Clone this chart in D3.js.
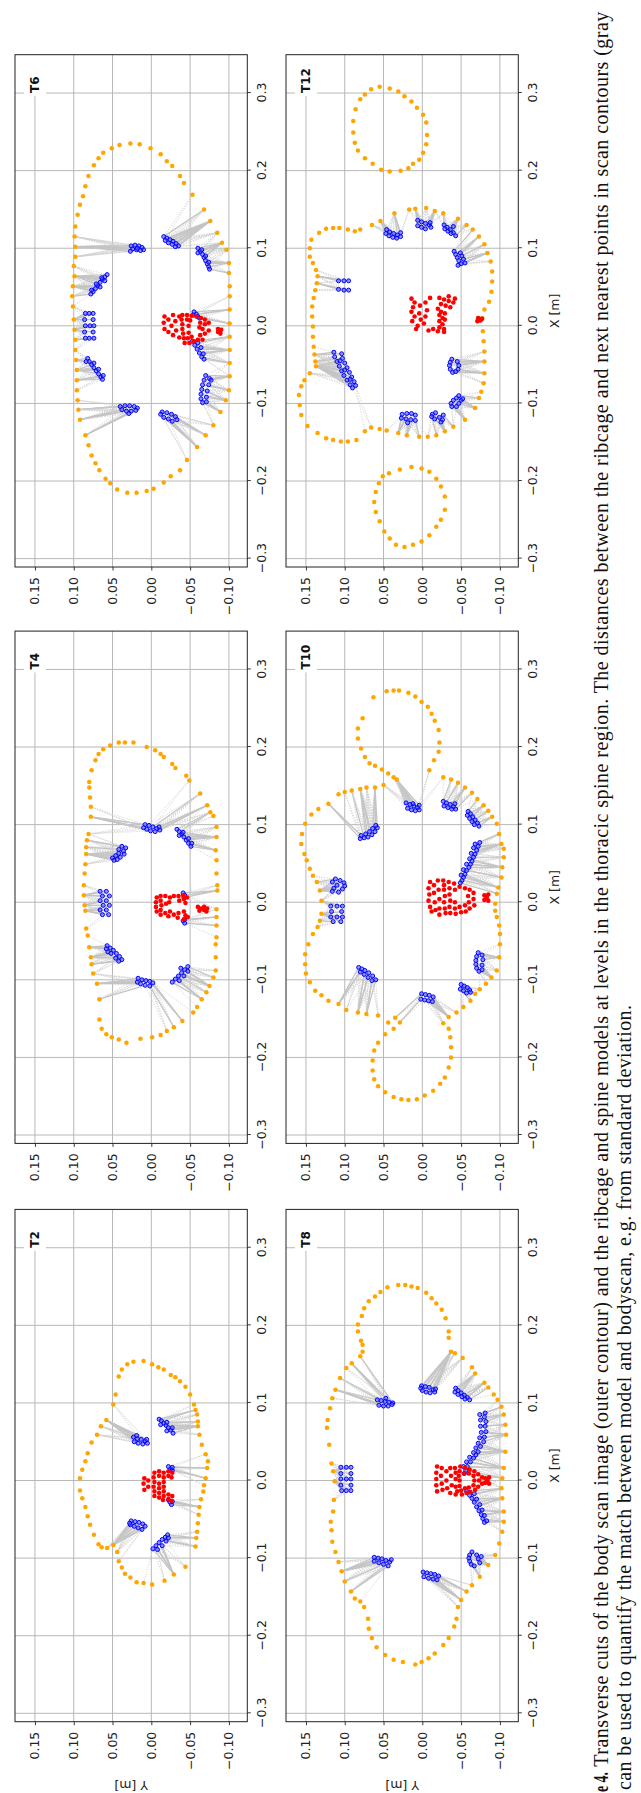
<!DOCTYPE html>
<html><head><meta charset="utf-8">
<script src="https://cdn.jsdelivr.net/npm/d3@7"></script>
<style>html,body{margin:0;padding:0;background:#fff;}svg{display:block;}</style>
</head><body>
<svg id="c" width="641" height="1793"></svg>
<script>
// ---------- tick labels / names ----------
const xTicks = [-0.3,-0.2,-0.1,0,0.1,0.2,0.3];
const yTicks = [-0.10,-0.05,0,0.05,0.10,0.15];
const panelNames = ["T2","T4","T6","T8","T10","T12"];
const captionBold = "e 4.";
const captionLine1 = "Transverse cuts of the body scan image (outer contour) and the ribcage and spine models at levels in the thoracic spine region. The distances between the ribcage and next nearest points in scan contours (gray";
const captionLine2 = "can be used to quantify the match between model and bodyscan, e.g. from standard deviation.";

// ---------- T2 ----------
const contourT2 = [[0.153,0.023],[0.154,0.010],[0.150,-0.001],[0.146,-0.009],[0.143,-0.016],[0.136,-0.025],[0.133,-0.031],[0.128,-0.037],[0.121,-0.044],[0.111,-0.050],[0.098,-0.055],[0.091,-0.057],[0.085,-0.059],[0.076,-0.060],[0.070,-0.060],[0.059,-0.062],[0.046,-0.065],[0.034,-0.070],[0.025,-0.073],[0.016,-0.072],[0.003,-0.070],[-0.006,-0.068],[-0.014,-0.067],[-0.024,-0.064],[-0.034,-0.062],[-0.044,-0.061],[-0.055,-0.060],[-0.066,-0.059],[-0.074,-0.058],[-0.085,-0.057],[-0.111,-0.044],[-0.121,-0.029],[-0.129,-0.017],[-0.134,-0.001],[-0.132,0.010],[-0.131,0.019],[-0.125,0.027],[-0.120,0.034],[-0.112,0.038],[-0.104,0.042],[-0.092,0.044],[-0.083,0.049],[-0.087,0.057],[-0.086,0.064],[-0.082,0.068],[-0.070,0.074],[-0.057,0.079],[-0.046,0.082],[-0.034,0.085],[-0.023,0.089],[-0.013,0.092],[0.003,0.092],[0.014,0.089],[0.025,0.085],[0.035,0.082],[0.049,0.077],[0.059,0.070],[0.070,0.065],[0.078,0.058],[0.098,0.049],[0.111,0.046],[0.134,0.042],[0.143,0.038],[0.150,0.031]];
const ribsT2 = [
 [[0.056,0.023],[0.054,0.018],[0.053,0.013],[0.051,0.008],[0.048,0.005],[0.050,0.022],[0.048,0.017],[0.047,0.011],[0.053,0.006],[0.058,0.019]],
 [[0.079,-0.010],[0.077,-0.013],[0.074,-0.016],[0.071,-0.019],[0.068,-0.022],[0.065,-0.025],[0.061,-0.028],[0.075,-0.020],[0.068,-0.027],[0.072,-0.012],[0.064,-0.020]],
 [[0.018,-0.022],[0.015,-0.025],[0.013,-0.027],[0.017,-0.027]],
 [[-0.025,-0.022],[-0.028,-0.024],[-0.031,-0.026],[-0.027,-0.027]],
 [[-0.052,0.026],[-0.053,0.021],[-0.054,0.016],[-0.056,0.011],[-0.059,0.008],[-0.057,0.027],[-0.059,0.022],[-0.061,0.017],[-0.063,0.012],[-0.055,0.028]],
 [[-0.070,-0.021],[-0.073,-0.018],[-0.076,-0.014],[-0.080,-0.010],[-0.084,-0.006],[-0.088,-0.002],[-0.078,-0.019],[-0.084,-0.014],[-0.089,-0.008],[-0.074,-0.022]]
];
const spineT2 = [[0.003,0.009],[-0.004,0.010],[-0.012,0.009],[0.000,0.004],[-0.008,0.004],[0.010,-0.004],[0.004,-0.003],[-0.002,-0.004],[-0.008,-0.003],[-0.014,-0.004],[-0.020,-0.004],[0.012,-0.010],[0.006,-0.010],[-0.016,-0.010],[-0.022,-0.010],[0.010,-0.016],[0.004,-0.016],[-0.002,-0.016],[-0.008,-0.016],[-0.014,-0.016],[-0.020,-0.016],[-0.025,-0.015],[0.012,-0.022],[0.006,-0.022],[-0.018,-0.022],[-0.024,-0.022],[0.010,-0.027],[0.004,-0.026],[-0.020,-0.027],[-0.026,-0.026],[-0.004,-0.010],[-0.010,-0.010]];

// ---------- T4 ----------
const contourT4 = [[0.206,0.023],[0.206,0.034],[0.206,0.042],[0.202,0.053],[0.197,0.062],[0.191,0.068],[0.183,0.072],[0.170,0.077],[0.155,0.080],[0.148,0.080],[0.135,0.079],[0.123,0.078],[0.110,0.078],[0.088,0.081],[0.080,0.083],[0.071,0.084],[0.062,0.084],[0.049,0.085],[0.037,0.086],[0.022,0.087],[0.009,0.087],[-0.004,0.086],[-0.011,0.085],[-0.034,0.084],[-0.043,0.082],[-0.058,0.080],[-0.071,0.078],[-0.080,0.077],[-0.092,0.075],[-0.105,0.070],[-0.125,0.067],[-0.151,0.067],[-0.163,0.064],[-0.170,0.058],[-0.174,0.051],[-0.177,0.042],[-0.181,0.032],[-0.176,0.014],[-0.174,-0.001],[-0.171,-0.012],[-0.166,-0.020],[-0.161,-0.029],[-0.153,-0.040],[-0.142,-0.054],[-0.135,-0.059],[-0.125,-0.065],[-0.116,-0.071],[-0.108,-0.075],[-0.097,-0.080],[-0.088,-0.083],[-0.071,-0.083],[-0.054,-0.083],[-0.045,-0.084],[-0.030,-0.084],[-0.019,-0.084],[-0.009,-0.084],[0.015,-0.085],[0.022,-0.085],[0.037,-0.084],[0.054,-0.084],[0.067,-0.083],[0.084,-0.084],[0.097,-0.084],[0.111,-0.080],[0.116,-0.076],[0.125,-0.072],[0.140,-0.063],[0.157,-0.049],[0.163,-0.045],[0.173,-0.031],[0.178,-0.027],[0.187,-0.016],[0.191,-0.012],[0.196,-0.005],[0.200,0.006]];
const ribsT4 = [
 [[0.100,0.008],[0.099,0.003],[0.097,-0.002],[0.095,-0.007],[0.093,-0.011],[0.094,0.006],[0.092,0.001],[0.091,-0.005],[0.097,-0.010],[0.096,0.010]],
 [[0.094,-0.033],[0.091,-0.036],[0.088,-0.039],[0.084,-0.042],[0.080,-0.045],[0.076,-0.048],[0.072,-0.051],[0.090,-0.041],[0.082,-0.048],[0.076,-0.052],[0.086,-0.036]],
 [[0.072,0.038],[0.070,0.033],[0.066,0.036],[0.063,0.042],[0.060,0.046],[0.057,0.050],[0.054,0.048],[0.058,0.040],[0.062,0.035],[0.068,0.042],[0.055,0.044]],
 [[0.014,0.066],[0.014,0.058],[0.008,0.063],[0.008,0.054],[0.002,0.066],[0.002,0.058],[-0.004,0.062],[-0.004,0.054],[-0.010,0.066],[-0.010,0.058],[-0.016,0.063],[-0.016,0.055]],
 [[0.012,-0.041],[0.009,-0.043],[0.006,-0.042]],
 [[-0.024,-0.041],[-0.027,-0.043],[-0.022,-0.043]],
 [[-0.056,0.057],[-0.059,0.053],[-0.062,0.049],[-0.066,0.045],[-0.070,0.041],[-0.074,0.038],[-0.060,0.058],[-0.066,0.052],[-0.072,0.046],[-0.076,0.042],[-0.064,0.056]],
 [[-0.083,-0.047],[-0.087,-0.043],[-0.091,-0.039],[-0.095,-0.035],[-0.099,-0.031],[-0.103,-0.027],[-0.089,-0.047],[-0.095,-0.042],[-0.101,-0.036],[-0.085,-0.038]],
 [[-0.098,0.017],[-0.100,0.012],[-0.101,0.007],[-0.102,0.002],[-0.104,-0.002],[-0.105,0.014],[-0.107,0.008],[-0.108,0.002],[-0.103,0.018]]
];
const spineT4 = [[0.006,-0.007],[0.000,-0.006],[-0.006,-0.006],[-0.012,-0.007],[0.008,-0.012],[0.002,-0.012],[-0.004,-0.013],[-0.010,-0.012],[-0.016,-0.012],[0.008,-0.018],[-0.002,-0.019],[-0.014,-0.018],[0.006,-0.024],[0.000,-0.023],[-0.012,-0.024],[-0.018,-0.022],[0.008,-0.029],[-0.016,-0.029],[0.008,-0.035],[0.002,-0.036],[-0.014,-0.035],[-0.020,-0.034],[0.009,-0.041],[0.004,-0.042],[-0.001,-0.044],[-0.012,-0.042],[-0.017,-0.044],[-0.022,-0.042],[0.006,-0.046],[-0.019,-0.047],[-0.006,-0.060],[-0.008,-0.064],[-0.010,-0.068],[-0.008,-0.072],[-0.011,-0.062],[-0.006,-0.068],[-0.012,-0.071]];

// ---------- T6 ----------
const contourT6 = [[0.235,0.027],[0.234,0.015],[0.229,0.001],[0.233,0.041],[0.229,0.051],[0.223,0.062],[0.216,0.068],[0.207,0.074],[0.193,0.081],[0.180,0.085],[0.167,0.088],[0.156,0.092],[0.143,0.095],[0.128,0.098],[0.115,0.099],[0.102,0.098],[0.089,0.098],[0.077,0.100],[0.064,0.099],[0.051,0.101],[0.038,0.102],[0.025,0.101],[0.008,0.100],[-0.005,0.099],[-0.018,0.098],[-0.031,0.098],[-0.044,0.097],[-0.057,0.096],[-0.070,0.096],[-0.083,0.096],[-0.096,0.095],[-0.108,0.094],[-0.121,0.092],[-0.141,0.085],[-0.154,0.081],[-0.167,0.077],[-0.177,0.072],[-0.186,0.067],[-0.197,0.059],[-0.203,0.053],[-0.211,0.044],[-0.215,0.031],[-0.215,0.019],[-0.213,0.006],[-0.210,-0.003],[-0.202,-0.016],[-0.194,-0.025],[-0.186,-0.037],[-0.173,-0.046],[-0.156,-0.059],[-0.141,-0.070],[-0.128,-0.080],[-0.111,-0.089],[-0.096,-0.096],[-0.083,-0.100],[-0.065,-0.101],[-0.048,-0.101],[-0.031,-0.101],[-0.014,-0.101],[0.003,-0.101],[0.021,-0.101],[0.038,-0.101],[0.051,-0.101],[0.068,-0.100],[0.081,-0.100],[0.098,-0.097],[0.107,-0.091],[0.120,-0.085],[0.135,-0.076],[0.150,-0.068],[0.169,-0.053],[0.184,-0.042],[0.193,-0.037],[0.206,-0.027],[0.212,-0.020],[0.221,-0.012]];
const ribsT6 = [
 [[0.103,0.026],[0.104,0.021],[0.103,0.016],[0.101,0.012],[0.098,0.010],[0.097,0.014],[0.098,0.019],[0.099,0.024],[0.096,0.027],[0.100,0.018]],
 [[0.115,-0.016],[0.113,-0.020],[0.111,-0.024],[0.109,-0.028],[0.106,-0.032],[0.103,-0.035],[0.110,-0.018],[0.107,-0.022],[0.105,-0.027],[0.102,-0.031]],
 [[0.100,-0.060],[0.096,-0.063],[0.092,-0.066],[0.088,-0.068],[0.084,-0.070],[0.080,-0.072],[0.076,-0.074],[0.073,-0.075],[0.098,-0.065],[0.090,-0.070],[0.082,-0.074],[0.094,-0.060]],
 [[0.066,0.057],[0.063,0.060],[0.060,0.063],[0.056,0.066],[0.052,0.069],[0.048,0.072],[0.044,0.075],[0.041,0.078],[0.062,0.064],[0.054,0.071],[0.046,0.077],[0.058,0.060],[0.050,0.066]],
 [[0.016,0.085],[0.016,0.080],[0.016,0.075],[0.008,0.086],[0.008,0.075],[0.000,0.085],[0.000,0.079],[0.000,0.074],[-0.008,0.086],[-0.008,0.075],[-0.016,0.085],[-0.016,0.080],[-0.016,0.074]],
 [[0.018,-0.055],[0.015,-0.058],[0.012,-0.060],[0.010,-0.062],[0.014,-0.054]],
 [[-0.020,-0.053],[-0.025,-0.056],[-0.030,-0.059],[-0.035,-0.062],[-0.040,-0.065],[-0.043,-0.068],[-0.028,-0.064],[-0.036,-0.067],[-0.022,-0.060]],
 [[-0.042,0.082],[-0.046,0.080],[-0.050,0.077],[-0.054,0.074],[-0.058,0.071],[-0.062,0.068],[-0.066,0.065],[-0.069,0.063],[-0.048,0.074],[-0.056,0.068],[-0.064,0.062],[-0.046,0.084]],
 [[-0.064,-0.070],[-0.070,-0.068],[-0.076,-0.066],[-0.082,-0.065],[-0.088,-0.064],[-0.094,-0.064],[-0.099,-0.066],[-0.068,-0.075],[-0.076,-0.074],[-0.084,-0.072],[-0.092,-0.071],[-0.098,-0.071],[-0.070,-0.077]],
 [[-0.104,0.040],[-0.103,0.034],[-0.103,0.028],[-0.104,0.022],[-0.106,0.018],[-0.109,0.020],[-0.110,0.026],[-0.110,0.032],[-0.108,0.038],[-0.113,0.029]],
 [[-0.111,-0.014],[-0.112,-0.020],[-0.114,-0.026],[-0.117,-0.031],[-0.121,-0.033],[-0.118,-0.016],[-0.120,-0.022],[-0.123,-0.027],[-0.114,-0.012]]
];
const spineT6 = [[0.012,-0.017],[0.004,-0.016],[-0.004,-0.017],[0.008,-0.022],[-0.008,-0.022],[0.014,-0.028],[0.000,-0.026],[-0.012,-0.028],[0.006,-0.031],[-0.006,-0.032],[0.012,-0.036],[-0.015,-0.036],[0.014,-0.040],[0.008,-0.039],[0.002,-0.040],[-0.004,-0.040],[-0.010,-0.041],[-0.016,-0.042],[-0.022,-0.043],[0.014,-0.046],[0.008,-0.046],[-0.016,-0.047],[-0.022,-0.049],[0.013,-0.052],[0.007,-0.050],[-0.014,-0.052],[-0.020,-0.055],[0.012,-0.058],[-0.018,-0.060],[0.010,-0.064],[0.004,-0.063],[-0.012,-0.063],[-0.018,-0.066],[0.008,-0.069],[0.002,-0.069],[-0.004,-0.066],[-0.010,-0.069],[0.004,-0.074],[-0.006,-0.074],[0.000,-0.048],[-0.009,-0.048],[-0.002,-0.062],[-0.004,-0.086],[-0.008,-0.086],[-0.010,-0.089],[-0.005,-0.090],[-0.007,-0.088]];

// ---------- T8 ----------
const contourT8 = [[0.252,0.031],[0.252,0.022],[0.250,0.014],[0.248,0.006],[0.242,-0.005],[0.235,-0.012],[0.228,-0.018],[0.220,-0.025],[0.209,-0.030],[0.192,-0.034],[0.184,-0.034],[0.166,-0.037],[0.164,-0.042],[0.158,-0.052],[0.146,-0.064],[0.138,-0.068],[0.126,-0.080],[0.120,-0.085],[0.111,-0.092],[0.104,-0.097],[0.095,-0.102],[0.085,-0.105],[0.072,-0.107],[0.059,-0.108],[0.037,-0.107],[0.016,-0.105],[0.003,-0.103],[-0.010,-0.102],[-0.023,-0.103],[-0.040,-0.105],[-0.053,-0.105],[-0.066,-0.103],[-0.081,-0.099],[-0.096,-0.094],[-0.109,-0.085],[-0.124,-0.074],[-0.135,-0.064],[-0.143,-0.057],[-0.154,-0.050],[-0.163,-0.046],[-0.178,-0.044],[-0.188,-0.041],[-0.203,-0.034],[-0.212,-0.027],[-0.223,-0.016],[-0.229,-0.008],[-0.234,0.001],[-0.237,0.009],[-0.234,0.025],[-0.231,0.037],[-0.225,0.048],[-0.215,0.059],[-0.203,0.065],[-0.191,0.069],[-0.178,0.070],[-0.163,0.075],[-0.156,0.080],[-0.152,0.087],[-0.143,0.092],[-0.130,0.100],[-0.117,0.104],[-0.105,0.108],[-0.092,0.112],[-0.079,0.116],[-0.064,0.117],[-0.053,0.118],[-0.040,0.115],[-0.025,0.114],[-0.001,0.113],[0.012,0.115],[0.022,0.117],[0.046,0.120],[0.068,0.123],[0.078,0.122],[0.093,0.119],[0.106,0.116],[0.117,0.112],[0.132,0.106],[0.145,0.098],[0.151,0.091],[0.160,0.080],[0.166,0.077],[0.175,0.077],[0.180,0.079],[0.192,0.083],[0.201,0.083],[0.212,0.078],[0.222,0.075],[0.231,0.069],[0.237,0.061],[0.243,0.054],[0.249,0.045]];
const ribsT8 = [
 [[0.104,0.058],[0.103,0.053],[0.102,0.048],[0.101,0.043],[0.100,0.038],[0.097,0.056],[0.096,0.050],[0.096,0.044],[0.098,0.039],[0.106,0.047]],
 [[0.122,0.001],[0.121,-0.004],[0.120,-0.009],[0.117,-0.014],[0.114,-0.016],[0.116,0.000],[0.114,-0.005],[0.113,-0.010],[0.118,-0.017],[0.119,0.002]],
 [[0.119,-0.043],[0.116,-0.046],[0.113,-0.050],[0.110,-0.054],[0.107,-0.058],[0.104,-0.061],[0.114,-0.042],[0.111,-0.046],[0.108,-0.051],[0.105,-0.055]],
 [[0.087,-0.081],[0.082,-0.080],[0.076,-0.082],[0.070,-0.081],[0.063,-0.082],[0.056,-0.080],[0.050,-0.079],[0.044,-0.075],[0.037,-0.072],[0.033,-0.069],[0.029,-0.066],[0.024,-0.062],[0.018,-0.058],[0.013,-0.056],[0.009,-0.054],[0.085,-0.074],[0.078,-0.075],[0.070,-0.075],[0.062,-0.076],[0.055,-0.074],[0.048,-0.072],[0.042,-0.069],[0.036,-0.066],[0.030,-0.061],[0.024,-0.057],[0.018,-0.053]],
 [[-0.014,-0.057],[-0.019,-0.061],[-0.023,-0.064],[-0.028,-0.067],[-0.034,-0.070],[-0.039,-0.073],[-0.044,-0.076],[-0.049,-0.078],[-0.054,-0.080],[-0.017,-0.067],[-0.024,-0.070],[-0.031,-0.074],[-0.038,-0.077],[-0.045,-0.080],[-0.052,-0.083]],
 [[0.017,0.105],[0.017,0.098],[0.017,0.092],[0.009,0.105],[0.009,0.092],[0.002,0.105],[0.002,0.098],[0.002,0.092],[-0.006,0.105],[-0.006,0.092],[-0.013,0.104],[-0.013,0.098],[-0.013,0.092]],
 [[-0.099,0.062],[-0.100,0.057],[-0.101,0.052],[-0.103,0.047],[-0.105,0.042],[-0.104,0.062],[-0.106,0.056],[-0.108,0.050],[-0.110,0.044],[-0.102,0.040]],
 [[-0.118,-0.001],[-0.119,-0.006],[-0.120,-0.011],[-0.121,-0.016],[-0.123,-0.021],[-0.124,-0.002],[-0.126,-0.008],[-0.127,-0.014],[-0.128,-0.019]],
 [[-0.092,-0.064],[-0.096,-0.061],[-0.100,-0.060],[-0.104,-0.061],[-0.108,-0.063],[-0.110,-0.067],[-0.096,-0.070],[-0.101,-0.072],[-0.106,-0.074],[-0.098,-0.076]]
];
const spineT8 = [[0.018,-0.019],[0.010,-0.018],[0.002,-0.018],[-0.006,-0.018],[-0.014,-0.019],[0.016,-0.025],[0.006,-0.024],[-0.004,-0.025],[-0.012,-0.026],[0.012,-0.031],[0.000,-0.031],[-0.010,-0.032],[0.016,-0.036],[0.006,-0.037],[-0.006,-0.038],[-0.016,-0.036],[0.002,-0.043],[-0.018,-0.043],[0.016,-0.042],[0.010,-0.043],[-0.008,-0.043],[-0.014,-0.045],[0.018,-0.049],[0.012,-0.048],[0.006,-0.047],[0.000,-0.048],[-0.007,-0.048],[-0.013,-0.050],[-0.018,-0.051],[0.016,-0.055],[0.009,-0.054],[-0.010,-0.055],[-0.016,-0.057],[0.014,-0.061],[0.009,-0.060],[-0.009,-0.060],[-0.015,-0.062],[0.012,-0.067],[0.006,-0.066],[0.000,-0.067],[-0.006,-0.066],[-0.012,-0.068],[0.008,-0.072],[0.000,-0.073],[-0.008,-0.072],[0.004,-0.077],[-0.004,-0.077],[0.003,-0.081],[-0.003,-0.081],[0.000,-0.084],[0.004,-0.086],[-0.004,-0.086]];

// ---------- T10 ----------
const contourT10 = [[0.264,0.063],[0.272,0.046],[0.273,0.037],[0.273,0.030],[0.270,0.018],[0.265,0.009],[0.258,0.001],[0.252,-0.007],[0.243,-0.012],[0.234,-0.016],[0.222,-0.021],[0.206,-0.022],[0.194,-0.021],[0.183,-0.015],[0.170,-0.009],[0.237,0.077],[0.224,0.083],[0.211,0.083],[0.198,0.079],[0.187,0.074],[0.179,0.068],[0.176,0.061],[0.171,0.052],[0.166,0.044],[0.161,0.037],[0.158,0.033],[0.151,0.050],[0.148,0.061],[0.148,0.072],[0.146,0.080],[0.144,0.091],[0.142,0.100],[0.139,0.108],[0.127,0.121],[0.120,0.134],[0.113,0.143],[0.101,0.151],[0.088,0.155],[0.075,0.156],[0.062,0.152],[0.054,0.149],[0.043,0.145],[0.034,0.141],[0.026,0.136],[0.015,0.132],[0.002,0.130],[-0.015,0.130],[-0.024,0.132],[-0.032,0.135],[-0.041,0.141],[-0.054,0.147],[-0.067,0.151],[-0.080,0.151],[-0.092,0.150],[-0.103,0.145],[-0.114,0.138],[-0.120,0.130],[-0.127,0.121],[-0.131,0.108],[-0.139,0.098],[-0.142,0.083],[-0.144,0.072],[-0.146,0.057],[-0.155,0.044],[-0.149,0.035],[-0.155,0.029],[-0.163,0.037],[-0.170,0.048],[-0.181,0.057],[-0.191,0.062],[-0.204,0.064],[-0.217,0.064],[-0.228,0.062],[-0.237,0.057],[-0.245,0.048],[-0.251,0.037],[-0.254,0.027],[-0.255,0.018],[-0.254,0.007],[-0.249,-0.003],[-0.243,-0.014],[-0.234,-0.023],[-0.226,-0.029],[-0.213,-0.034],[-0.200,-0.037],[-0.187,-0.037],[-0.174,-0.036],[-0.163,-0.034],[-0.156,-0.027],[-0.148,-0.034],[-0.142,-0.044],[-0.135,-0.053],[-0.127,-0.062],[-0.118,-0.068],[-0.112,-0.074],[-0.105,-0.082],[-0.097,-0.089],[-0.088,-0.096],[-0.071,-0.099],[-0.054,-0.100],[-0.041,-0.100],[-0.030,-0.099],[-0.019,-0.096],[-0.011,-0.094],[-0.002,-0.094],[0.011,-0.096],[0.019,-0.098],[0.032,-0.102],[0.045,-0.103],[0.058,-0.105],[0.069,-0.105],[0.075,-0.102],[0.088,-0.099],[0.101,-0.096],[0.110,-0.090],[0.118,-0.085],[0.125,-0.079],[0.133,-0.071],[0.141,-0.064],[0.148,-0.055],[0.154,-0.046],[0.158,-0.037],[0.161,-0.027]];
const ribsT10 = [
 [[0.128,0.021],[0.126,0.016],[0.124,0.011],[0.122,0.006],[0.119,0.004],[0.121,0.019],[0.119,0.014],[0.118,0.009],[0.125,0.004],[0.127,0.012]],
 [[0.130,-0.027],[0.128,-0.031],[0.126,-0.036],[0.123,-0.040],[0.120,-0.043],[0.124,-0.028],[0.122,-0.033],[0.120,-0.038],[0.127,-0.042]],
 [[0.117,-0.059],[0.114,-0.062],[0.110,-0.065],[0.106,-0.068],[0.102,-0.071],[0.098,-0.073],[0.112,-0.058],[0.108,-0.061],[0.104,-0.064],[0.100,-0.067]],
 [[0.082,0.080],[0.083,0.075],[0.084,0.070],[0.087,0.065],[0.091,0.061],[0.096,0.058],[0.086,0.079],[0.088,0.073],[0.091,0.068],[0.095,0.064],[0.099,0.060]],
 [[0.077,-0.074],[0.072,-0.072],[0.067,-0.070],[0.062,-0.068],[0.058,-0.066],[0.053,-0.064],[0.049,-0.062],[0.045,-0.060],[0.041,-0.057],[0.036,-0.055],[0.032,-0.053],[0.028,-0.051],[0.025,-0.049],[0.070,-0.066],[0.063,-0.063],[0.056,-0.061],[0.049,-0.057],[0.042,-0.053],[0.035,-0.050],[0.075,-0.068]],
 [[0.030,0.112],[0.028,0.106],[0.025,0.101],[0.021,0.100],[0.017,0.103],[0.013,0.108],[0.022,0.110],[0.018,0.114],[0.026,0.116],[0.014,0.116]],
 [[-0.005,0.118],[-0.005,0.110],[-0.005,0.103],[-0.012,0.117],[-0.012,0.104],[-0.019,0.118],[-0.019,0.110],[-0.019,0.103],[-0.025,0.115],[-0.025,0.105]],
 [[-0.065,-0.072],[-0.070,-0.070],[-0.075,-0.069],[-0.080,-0.069],[-0.085,-0.070],[-0.089,-0.073],[-0.068,-0.077],[-0.074,-0.078],[-0.081,-0.077],[-0.087,-0.077]],
 [[-0.084,0.082],[-0.086,0.078],[-0.088,0.074],[-0.091,0.069],[-0.095,0.064],[-0.100,0.060],[-0.090,0.080],[-0.093,0.075],[-0.097,0.070],[-0.101,0.065]],
 [[-0.106,-0.050],[-0.108,-0.054],[-0.110,-0.058],[-0.113,-0.061],[-0.116,-0.062],[-0.112,-0.049],[-0.114,-0.053],[-0.117,-0.057]],
 [[-0.118,0.001],[-0.119,-0.004],[-0.120,-0.009],[-0.122,-0.014],[-0.125,0.002],[-0.126,-0.003],[-0.127,-0.008],[-0.128,-0.013]]
];
const spineT10 = [[0.026,-0.010],[0.018,-0.008],[0.010,-0.009],[0.002,-0.008],[-0.006,-0.010],[-0.012,-0.012],[0.022,-0.015],[0.012,-0.015],[0.000,-0.016],[-0.010,-0.017],[0.028,-0.020],[0.016,-0.021],[0.004,-0.022],[-0.008,-0.022],[-0.016,-0.022],[0.028,-0.027],[0.022,-0.028],[0.016,-0.028],[0.008,-0.029],[0.000,-0.028],[-0.008,-0.029],[-0.014,-0.030],[0.026,-0.034],[0.018,-0.035],[0.010,-0.035],[0.002,-0.036],[-0.006,-0.035],[-0.014,-0.036],[0.024,-0.041],[0.016,-0.042],[0.000,-0.042],[-0.008,-0.042],[-0.015,-0.043],[0.020,-0.048],[-0.006,-0.048],[-0.013,-0.050],[0.018,-0.055],[-0.004,-0.055],[-0.012,-0.056],[0.016,-0.061],[0.008,-0.059],[0.000,-0.060],[-0.008,-0.061],[0.012,-0.066],[0.004,-0.066],[-0.004,-0.067],[0.009,-0.080],[0.003,-0.080],[0.006,-0.083],[0.010,-0.085],[0.002,-0.085]];

// ---------- T12 ----------
const contourT12 = [[0.125,0.124],[0.120,0.133],[0.111,0.143],[0.100,0.145],[0.089,0.145],[0.081,0.141],[0.072,0.137],[0.064,0.135],[0.055,0.136],[0.046,0.138],[0.036,0.140],[0.025,0.142],[0.012,0.142],[-0.001,0.141],[-0.014,0.141],[-0.027,0.140],[-0.037,0.139],[-0.046,0.138],[-0.052,0.137],[-0.061,0.145],[-0.070,0.152],[-0.078,0.156],[-0.089,0.159],[-0.102,0.158],[-0.115,0.156],[-0.129,0.148],[-0.138,0.135],[-0.145,0.124],[-0.147,0.115],[-0.149,0.105],[-0.149,0.096],[-0.147,0.085],[-0.136,0.074],[-0.131,0.066],[-0.133,0.055],[-0.135,0.046],[-0.138,0.031],[-0.141,0.020],[-0.143,0.004],[-0.143,-0.007],[-0.141,-0.018],[-0.136,-0.029],[-0.130,-0.040],[-0.121,-0.055],[-0.106,-0.068],[-0.093,-0.073],[-0.085,-0.076],[-0.074,-0.079],[-0.061,-0.080],[-0.046,-0.080],[-0.033,-0.080],[-0.020,-0.079],[-0.007,-0.078],[0.010,-0.077],[0.021,-0.080],[0.031,-0.086],[0.044,-0.089],[0.057,-0.090],[0.070,-0.090],[0.083,-0.088],[0.094,-0.084],[0.105,-0.080],[0.115,-0.073],[0.124,-0.065],[0.130,-0.057],[0.138,-0.046],[0.145,-0.027],[0.148,-0.016],[0.152,-0.005],[0.151,0.009],[0.150,0.017],[0.145,0.036],[0.135,0.054],[0.130,0.065],[0.124,0.080],[0.122,0.087],[0.124,0.096],[0.126,0.107],[0.126,0.115],
 [0.308,0.055],[0.306,0.042],[0.302,0.031],[0.296,0.023],[0.289,0.014],[0.281,0.007],[0.272,-0.001],[0.262,-0.005],[0.246,-0.006],[0.234,-0.005],[0.223,-0.001],[0.214,0.004],[0.209,0.012],[0.203,0.018],[0.200,0.028],[0.199,0.042],[0.201,0.053],[0.209,0.064],[0.216,0.074],[0.226,0.083],[0.236,0.087],[0.249,0.089],[0.264,0.089],[0.279,0.086],[0.292,0.080],[0.298,0.074],[0.305,0.066],
 [-0.182,0.014],[-0.184,0.001],[-0.188,-0.009],[-0.197,-0.018],[-0.207,-0.024],[-0.220,-0.029],[-0.237,-0.029],[-0.250,-0.024],[-0.259,-0.018],[-0.270,-0.009],[-0.278,0.001],[-0.282,0.012],[-0.285,0.023],[-0.282,0.034],[-0.274,0.042],[-0.265,0.049],[-0.252,0.055],[-0.240,0.060],[-0.227,0.062],[-0.214,0.060],[-0.203,0.056],[-0.194,0.051],[-0.190,0.043],[-0.185,0.029]];
const ribsT12 = [
 [[0.124,0.046],[0.121,0.042],[0.119,0.037],[0.117,0.032],[0.115,0.028],[0.119,0.047],[0.116,0.043],[0.114,0.038],[0.113,0.033],[0.120,0.028]],
 [[0.136,0.006],[0.134,0.001],[0.132,-0.004],[0.130,-0.009],[0.127,-0.011],[0.129,0.006],[0.127,0.001],[0.125,-0.004],[0.133,-0.010]],
 [[0.130,-0.028],[0.127,-0.032],[0.124,-0.036],[0.120,-0.040],[0.116,-0.043],[0.125,-0.029],[0.122,-0.033],[0.119,-0.037],[0.128,-0.040]],
 [[0.096,-0.041],[0.092,-0.043],[0.088,-0.045],[0.084,-0.047],[0.080,-0.050],[0.094,-0.049],[0.090,-0.051],[0.086,-0.053],[0.081,-0.055],[0.078,-0.046]],
 [[0.058,0.108],[0.058,0.101],[0.058,0.095],[0.047,0.108],[0.046,0.101],[0.046,0.095]],
 [[-0.034,0.114],[-0.040,0.113],[-0.046,0.110],[-0.052,0.107],[-0.058,0.104],[-0.064,0.101],[-0.070,0.097],[-0.076,0.093],[-0.080,0.090],[-0.036,0.104],[-0.042,0.103],[-0.048,0.100],[-0.054,0.097],[-0.060,0.094],[-0.066,0.091],[-0.072,0.088],[-0.077,0.086],[-0.045,0.106],[-0.057,0.100],[-0.069,0.093]],
 [[-0.043,-0.038],[-0.047,-0.036],[-0.051,-0.035],[-0.056,-0.036],[-0.060,-0.039],[-0.046,-0.045],[-0.051,-0.047],[-0.056,-0.046],[-0.059,-0.043]],
 [[-0.090,-0.047],[-0.093,-0.044],[-0.096,-0.040],[-0.100,-0.037],[-0.104,-0.038],[-0.096,-0.050],[-0.100,-0.047],[-0.104,-0.044],[-0.094,-0.052]],
 [[-0.114,0.026],[-0.113,0.020],[-0.113,0.014],[-0.115,0.009],[-0.119,0.027],[-0.120,0.021],[-0.121,0.015],[-0.122,0.009],[-0.125,0.019]],
 [[-0.112,-0.017],[-0.114,-0.013],[-0.117,-0.012],[-0.120,-0.016],[-0.118,-0.022],[-0.121,-0.026],[-0.124,-0.024],[-0.115,-0.027]]
];
const spineT12 = [[0.035,0.014],[0.030,0.010],[0.024,0.012],[0.018,0.014],[0.012,0.010],[0.006,0.013],[0.026,0.003],[0.016,0.004],[0.008,0.002],[0.000,0.006],[0.030,-0.004],[0.020,-0.006],[0.012,-0.004],[0.003,-0.002],[0.036,-0.010],[-0.004,0.008],[0.036,-0.022],[0.034,-0.028],[0.032,-0.034],[0.030,-0.040],[0.028,-0.024],[0.026,-0.030],[0.024,-0.036],[0.035,-0.042],[0.038,-0.034],[0.022,-0.020],[0.018,-0.024],[0.014,-0.022],[0.010,-0.026],[0.006,-0.022],[0.002,-0.026],[0.016,-0.029],[0.008,-0.029],[-0.002,-0.022],[-0.004,-0.014],[-0.006,-0.008],[-0.004,-0.028],[-0.007,-0.020],[-0.008,-0.028],[0.010,-0.072],[0.007,-0.075],[0.006,-0.071],[0.009,-0.077]];

// ---------- layout ----------
const svg = d3.select("#c");
const root = svg.append("g").attr("transform","translate(0,1793) rotate(-90)");
const panelW = 512.3, panelH = 232.3;
const colU = [71.3, 649.6, 1226];
const rowV = [15, 286];
const xDom = [-0.3108, 0.3494], yDom = [-0.1237, 0.1757];
const panels = [
  {name:panelNames[0], contour:contourT2,  ribs:ribsT2,  spine:spineT2,  col:0, row:0},
  {name:panelNames[1], contour:contourT4,  ribs:ribsT4,  spine:spineT4,  col:1, row:0},
  {name:panelNames[2], contour:contourT6,  ribs:ribsT6,  spine:spineT6,  col:2, row:0},
  {name:panelNames[3], contour:contourT8,  ribs:ribsT8,  spine:spineT8,  col:0, row:1},
  {name:panelNames[4], contour:contourT10, ribs:ribsT10, spine:spineT10, col:1, row:1},
  {name:panelNames[5], contour:contourT12, ribs:ribsT12, spine:spineT12, col:2, row:1}
];
const FONT = "'DejaVu Sans', sans-serif";

panels.forEach((p, i) => {
  const u0 = colU[p.col], v0 = rowV[p.row];
  const x = d3.scaleLinear().domain(xDom).range([u0, u0 + panelW]);
  const y = d3.scaleLinear().domain(yDom).range([v0 + panelH, v0]);
  const g = root.append("g");
  const cid = "clip" + i;
  g.append("clipPath").attr("id", cid).append("rect")
    .attr("x", u0).attr("y", v0).attr("width", panelW).attr("height", panelH);
  const inner = g.append("g").attr("clip-path", `url(#${cid})`);

  // grid
  inner.selectAll(".gx").data(xTicks).join("line")
    .attr("x1", d => x(d)).attr("x2", d => x(d)).attr("y1", v0).attr("y2", v0 + panelH)
    .attr("stroke", "#b8b8b8").attr("stroke-width", 1);
  inner.selectAll(".gy").data(yTicks).join("line")
    .attr("x1", u0).attr("x2", u0 + panelW).attr("y1", d => y(d)).attr("y2", d => y(d))
    .attr("stroke", "#b8b8b8").attr("stroke-width", 1);

  // distance lines: each rib point to nearest (solid) and next nearest (dotted) scan point
  const links = [];
  p.ribs.forEach(cl => cl.forEach(r => {
    const ds = p.contour.map(c => ({c, d: (c[0]-r[0])**2 + (c[1]-r[1])**2})).sort((a,b) => a.d - b.d);
    links.push({r, c: ds[0].c, k: 0});
    links.push({r, c: ds[1].c, k: 1});
    links.push({r, c: ds[2].c, k: 1});
  }));
  inner.selectAll(".lk").data(links).join("line")
    .attr("x1", d => x(d.r[0])).attr("y1", d => y(d.r[1]))
    .attr("x2", d => x(d.c[0])).attr("y2", d => y(d.c[1]))
    .attr("stroke", d => d.k ? "#d0d0d0" : "#c4c4c4")
    .attr("stroke-width", d => d.k ? 0.9 : 1.3)
    .attr("stroke-dasharray", d => d.k ? "1.2,1.4" : null);

  // scan contour
  inner.selectAll(".ct").data(p.contour).join("circle")
    .attr("cx", d => x(d[0])).attr("cy", d => y(d[1])).attr("r", 2.25)
    .attr("fill", "#ffa500");
  // ribs
  inner.selectAll(".rb").data(p.ribs.flat()).join("circle")
    .attr("cx", d => x(d[0])).attr("cy", d => y(d[1])).attr("r", 2.0)
    .attr("fill", "rgba(70,80,255,0.55)").attr("stroke", "#0000ff").attr("stroke-width", 1.0);
  // spine
  inner.selectAll(".sp").data(p.spine).join("circle")
    .attr("cx", d => x(d[0])).attr("cy", d => y(d[1])).attr("r", 2.3)
    .attr("fill", "#ff0000");

  // title
  g.append("rect").attr("x", x(0.3) - 3).attr("y", y(0.15) - 11)
    .attr("width", u0 + panelW - (x(0.3) - 3) - 0.5).attr("height", 22).attr("fill", "#fff");
  g.append("text").attr("x", x(0.3)).attr("y", y(0.15) + 4.3)
    .attr("font-family", FONT).attr("font-weight", "bold").attr("font-size", 12).attr("fill", "#111")
    .text(p.name);

  // axes
  const ax = g.append("g").attr("transform", `translate(0,${v0 + panelH})`)
    .call(d3.axisBottom(x).tickValues(xTicks).tickFormat(d3.format(".1f")).tickSize(3.5).tickPadding(6.6));
  const ay = g.append("g").attr("transform", `translate(${u0},0)`)
    .call(d3.axisLeft(y).tickValues(yTicks).tickFormat(d3.format(".2f")).tickSize(3.5).tickPadding(6.5));
  [ax, ay].forEach(a => {
    a.select(".domain").remove();
    a.selectAll("line").attr("stroke", "#222").attr("stroke-width", 0.9);
    a.selectAll("text").attr("font-family", FONT).attr("font-size", 12.5).attr("fill", "#222");
  });

  // frame
  g.append("rect").attr("x", u0).attr("y", v0).attr("width", panelW).attr("height", panelH)
    .attr("fill", "none").attr("stroke", "#222").attr("stroke-width", 1);

  if (p.row === 1) {
    g.append("text").attr("x", u0 + panelW / 2).attr("y", v0 + panelH + 40.5)
      .attr("text-anchor", "middle").attr("font-family", FONT).attr("font-size", 12.5).attr("fill", "#222")
      .text("X [m]");
  }
  if (p.col === 0) {
    g.append("text").attr("transform", `translate(${u0 - 59.5},${v0 + panelH / 2}) rotate(-90)`)
      .attr("text-anchor", "middle").attr("font-family", FONT).attr("font-size", 12.5).attr("fill", "#222")
      .text("Y [m]");
  }
});

// caption
const SERIF = "'Liberation Serif', 'DejaVu Serif', serif";
root.append("text").attr("x", 1).attr("y", 608)
  .attr("font-family", SERIF).attr("font-weight", "bold").attr("font-size", 20).attr("fill", "#111")
  .attr("textLength", 20).attr("lengthAdjust", "spacingAndGlyphs")
  .text(captionBold);
root.append("text").attr("x", 26.3).attr("y", 608)
  .attr("font-family", SERIF).attr("font-size", 20).attr("fill", "#111")
  .attr("textLength", 1755).attr("lengthAdjust", "spacing")
  .text(captionLine1);
root.append("text").attr("x", 3).attr("y", 631)
  .attr("font-family", SERIF).attr("font-size", 20).attr("fill", "#111")
  .attr("textLength", 785).attr("lengthAdjust", "spacing")
  .text(captionLine2);
</script>
</body></html>
